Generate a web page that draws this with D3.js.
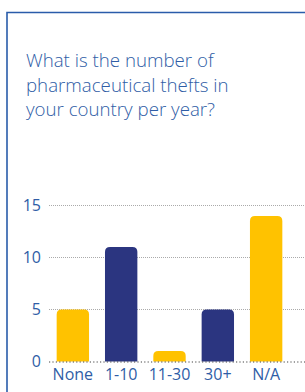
<!DOCTYPE html>
<html><head><meta charset="utf-8">
<script src="https://cdn.jsdelivr.net/npm/d3@7"></script>
<style>html,body{margin:0;padding:0;background:#fff;}svg{display:block;}</style>
</head><body>
<svg id="c" width="305" height="392"></svg>
<script>
const categories = ["None", "1-10", "11-30", "30+", "N/A"];
const values = [5, 11, 1, 5, 14];
const colors = ["#FFC200", "#2B3580", "#FFC200", "#2B3580", "#FFC200"];
const yTicks = [0, 5, 10, 15];
const titleLines = ["What is the number of", "pharmaceutical thefts in", "your country per year?"];

const svg = d3.select("#c");
const textColor = "#2F5DA6";
const font = "'Open Sans', sans-serif";

// frame
svg.append("path").attr("d", "M7,392 V12.5 H305").attr("fill", "none")
  .attr("stroke", "#2A5CAA").attr("stroke-width", 1.6);

// title
svg.append("g").selectAll("text").data(titleLines).join("text")
  .attr("x", 26).attr("y", (d, i) => 67 + i * 24.5)
  .attr("fill", textColor).attr("font-family", font).attr("font-weight", 300)
  .attr("font-size", 18.7).text(d => d);

const x = d3.scaleBand().domain(categories).range([47, 292]).paddingInner(0.33).paddingOuter(0.2);
const y = d3.scaleLinear().domain([0, 15]).range([361.5, 205.5]);

// gridlines
svg.append("g").selectAll("line").data(yTicks.filter(t => t > 0)).join("line")
  .attr("x1", 49).attr("x2", 305).attr("y1", d => y(d)).attr("y2", d => y(d))
  .attr("stroke", "#AAAAAA").attr("stroke-width", 1).attr("stroke-dasharray", "1,1");

// bars with rounded top
const r = 5;
svg.append("g").selectAll("path").data(values).join("path")
  .attr("fill", (d, i) => colors[i])
  .attr("d", (d, i) => {
    const x0 = x(categories[i]), w = x.bandwidth(), y0 = y(d), yb = y(0);
    const rr = Math.min(r, (yb - y0));
    return `M${x0},${yb} V${y0 + rr} Q${x0},${y0} ${x0 + rr},${y0} H${x0 + w - rr} Q${x0 + w},${y0} ${x0 + w},${y0 + rr} V${yb} Z`;
  });

// zero line
svg.append("line").attr("x1", 49).attr("x2", 305).attr("y1", y(0) + 0.5).attr("y2", y(0) + 0.5)
  .attr("stroke", "#444").attr("stroke-width", 1.2).attr("stroke-dasharray", "1.2,2.2");

// y tick labels
svg.append("g").selectAll("text").data(yTicks).join("text")
  .attr("x", 41).attr("y", d => y(d) + 5.5).attr("text-anchor", "end")
  .attr("fill", textColor).attr("font-family", font).attr("font-size", 16).text(d => d);

// x labels
svg.append("g").selectAll("text").data(categories).join("text")
  .attr("x", d => x(d) + x.bandwidth() / 2).attr("y", 380).attr("text-anchor", "middle")
  .attr("fill", textColor).attr("font-family", font).attr("font-size", 16).text(d => d);
</script>
</body></html>
